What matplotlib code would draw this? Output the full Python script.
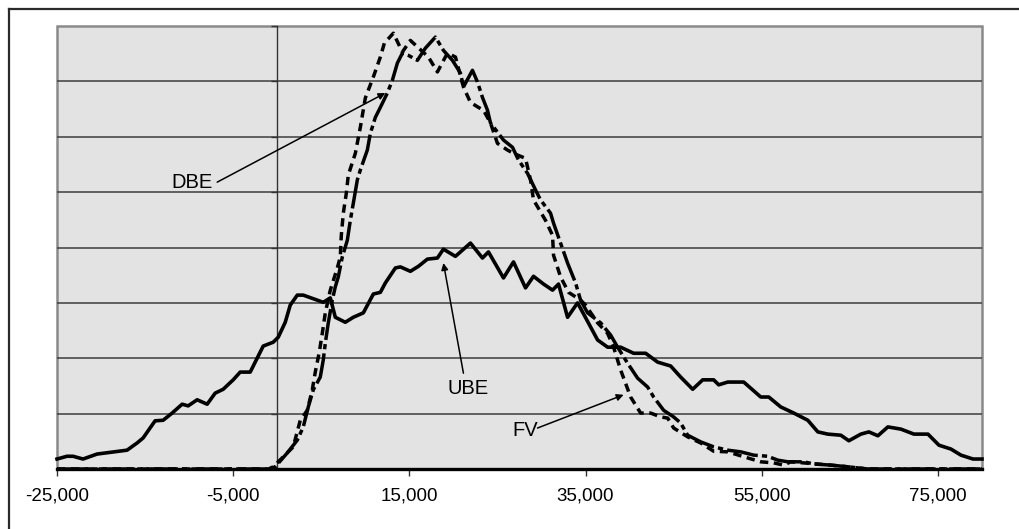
import matplotlib
matplotlib.use("Agg")
import matplotlib.pyplot as plt
from matplotlib.lines import Line2D
from matplotlib.patches import Rectangle
from matplotlib.ticker import FuncFormatter

plt.rcParams['font.family'] = ['Liberation Sans', 'DejaVu Sans']

# ---------------- data ----------------
ube_x = [-25000, -23864, -23182, -22045, -20455, -17045, -15909, -15227, -13864, -12955,
         -11932, -10795, -10114, -9091, -7955, -7045, -6136, -5000, -4205, -3068,
         -1591, -455, 114, 909, 1477, 2273, 2955, 5227, 6023, 6591,
         7727, 8636, 9773, 10909, 11705, 12273, 13409, 13977, 15114, 16023,
         17045, 18182, 18864, 20227, 21932, 23295, 23977, 25682, 26818, 28182,
         29091, 30227, 31250, 31932, 32955, 34091, 34773, 36364, 37500, 38977,
         40455, 41818, 43182, 44659, 45795, 47159, 48295, 49545, 50114, 51136,
         52955, 54886, 55795, 57159, 58636, 60227, 61364, 62500, 63977, 64886,
         66250, 67159, 68182, 69318, 70795, 72273, 73864, 75114, 76477, 77614,
         78977, 80000]
ube_y = [0.18, 0.23, 0.23, 0.18, 0.27, 0.34, 0.47, 0.56, 0.87, 0.88,
         1.01, 1.17, 1.14, 1.25, 1.17, 1.37, 1.44, 1.61, 1.75, 1.75,
         2.22, 2.29, 2.38, 2.65, 2.96, 3.14, 3.14, 3.01, 3.09, 2.74,
         2.65, 2.74, 2.82, 3.16, 3.19, 3.36, 3.63, 3.65, 3.57, 3.66,
         3.79, 3.81, 3.97, 3.84, 4.08, 3.81, 3.92, 3.45, 3.74, 3.27,
         3.48, 3.34, 3.23, 3.34, 2.74, 3.00, 2.80, 2.33, 2.20, 2.20,
         2.09, 2.09, 1.93, 1.86, 1.66, 1.44, 1.61, 1.61, 1.52, 1.57,
         1.57, 1.30, 1.30, 1.12, 1.01, 0.88, 0.67, 0.63, 0.61, 0.51,
         0.63, 0.67, 0.60, 0.76, 0.72, 0.63, 0.63, 0.43, 0.36, 0.25,
         0.18, 0.18]

dbe_x = [-25000, -800, -227, 1136, 2273, 2955, 3523, 4091, 4886, 5227,
         5455, 5795, 6250, 6591, 6932, 7386, 7955, 8295, 8636, 9091,
         9432, 10227, 10568, 11136, 11705, 12500, 13068, 13636, 14205, 14886,
         15909, 16818, 17955, 18864, 19886, 20795, 21136, 22159, 22727, 23295,
         23864, 24205, 25682, 26705, 27386, 28409, 29318, 29886, 31023, 31364,
         32159, 32955, 33864, 34432, 35227, 36705, 37841, 38636, 39773, 40909,
         42045, 42727, 43864, 45000, 45795, 46591, 48068, 49545, 51136, 52614,
         54091, 55682, 56818, 57955, 59773, 60909, 62841, 64773, 67045, 80000]
dbe_y = [0, 0, 0.04, 0.29, 0.52, 0.76, 1.12, 1.43, 1.66, 1.97,
         2.27, 2.64, 3.05, 3.29, 3.47, 3.83, 4.13, 4.49, 4.80, 5.22,
         5.40, 5.76, 6.06, 6.35, 6.53, 6.79, 7.02, 7.33, 7.51, 7.47,
         7.38, 7.60, 7.80, 7.56, 7.38, 7.15, 6.90, 7.20, 6.99, 6.71,
         6.48, 6.25, 5.94, 5.81, 5.58, 5.34, 5.04, 4.86, 4.62, 4.44,
         4.08, 3.72, 3.36, 3.05, 2.82, 2.64, 2.42, 2.20, 1.91, 1.64,
         1.48, 1.30, 1.06, 0.94, 0.83, 0.61, 0.49, 0.40, 0.34, 0.31,
         0.25, 0.23, 0.16, 0.13, 0.13, 0.09, 0.07, 0.04, 0, 0]

fv_x = [-25000, -1000, -455, 682, 1818, 2614, 3409, 3977, 4318, 4773,
        5114, 5455, 6023, 6818, 7159, 7273, 7500, 7841, 8068, 8864,
        9432, 10000, 10909, 11705, 12159, 13182, 14205, 15114, 17159, 18182,
        19318, 20227, 21136, 21932, 22841, 23409, 24205, 25000, 26136, 26818,
        28182, 28750, 29091, 30455, 31250, 31364, 32159, 33068, 34432, 35000,
        36364, 37500, 38182, 38977, 40114, 41250, 42386, 43523, 44318, 45000,
        46591, 48068, 49545, 51136, 53409, 54886, 56364, 57500, 58295, 59773,
        62841, 64773, 67045, 80000]
fv_y = [0, 0, 0.04, 0.22, 0.40, 0.88, 1.06, 1.43, 1.75, 2.11,
        2.45, 2.82, 3.23, 3.63, 3.83, 4.22, 4.62, 4.98, 5.31, 5.70,
        6.17, 6.70, 7.08, 7.44, 7.69, 7.87, 7.53, 7.74, 7.44, 7.17,
        7.51, 7.44, 6.90, 6.62, 6.53, 6.48, 6.25, 5.88, 5.76, 5.70,
        5.61, 5.22, 4.86, 4.49, 4.22, 3.86, 3.47, 3.19, 3.05, 2.96,
        2.64, 2.45, 2.20, 1.79, 1.30, 1.01, 1.01, 0.94, 0.92, 0.74,
        0.58, 0.47, 0.32, 0.31, 0.20, 0.13, 0.11, 0.07, 0.13, 0.11,
        0.07, 0.04, 0, 0]

x_ticks = [-25000, -5000, 15000, 35000, 55000, 75000]
grid_levels = [1, 2, 3, 4, 5, 6, 7]

labels = ["DBE", "UBE", "FV"]
label_text_xy = [(-9659, 5.18), (21705, 1.46), (28182, 0.69)]
label_line_start = [(-6818, 5.18), (21136, 1.73), (29545, 0.74)]
label_line_end = [(12273, 6.79), (18864, 3.72), (39318, 1.34)]

# ---------------- figure ----------------
W, H = 1020, 529
fig = plt.figure(figsize=(W / 100, H / 100), dpi=100)
fig.patch.set_facecolor('white')

# outer chart frame (left and top edges visible)
fig.add_artist(Line2D([9 / W, 9 / W], [0, 1 - 9 / H], transform=fig.transFigure,
                      color='#2a2a2a', lw=1.6))
fig.add_artist(Line2D([9 / W, 1], [1 - 9 / H, 1 - 9 / H], transform=fig.transFigure,
                      color='#2a2a2a', lw=1.6))

ax = fig.add_axes([57 / W, (H - 469) / H, (982 - 57) / W, (469 - 26) / H])
ax.set_facecolor('#e3e3e3')
ax.set_xlim(-25000, 80000)
ax.set_ylim(0, 8)

# gridlines
for g in grid_levels:
    ax.axhline(g, color='#3c3c3c', lw=1.1, zorder=1)

# plot-area border
ax.add_patch(Rectangle((0, 0), 1, 1, transform=ax.transAxes, fill=False,
                       edgecolor='#8a8a8a', lw=1.8, zorder=0.5, clip_on=False))

for s in ['top', 'right']:
    ax.spines[s].set_visible(False)
ax.spines['left'].set_position(('data', 0))
ax.spines['left'].set_color('#333333')
ax.spines['left'].set_linewidth(1.0)
ax.spines['bottom'].set_color('black')
ax.spines['bottom'].set_linewidth(2.4)

ax.set_yticks(grid_levels + [8])
ax.tick_params(axis='y', direction='out', length=4, width=1, color='#333333',
               labelleft=False)
ax.set_xticks(x_ticks)
ax.xaxis.set_major_formatter(FuncFormatter(lambda v, p: f"{int(v):,}"))
ax.tick_params(axis='x', direction='out', length=5, width=1, color='#333333',
               pad=8, labelsize=13.5)

# series
ax.plot(ube_x, ube_y, color='black', lw=2.6, solid_joinstyle='round', zorder=3,
        clip_on=False)
ax.plot(dbe_x, dbe_y, color='black', lw=2.5, linestyle=(0, (9, 1.2, 1.5, 1.2)),
        zorder=4, clip_on=False)
ax.plot(fv_x, fv_y, color='black', lw=2.5, linestyle=(0, (2.4, 1.6)),
        zorder=4, clip_on=False)

# annotations
for lab, txy, s, e in zip(labels, label_text_xy, label_line_start, label_line_end):
    ax.annotate('', xy=e, xytext=s,
                arrowprops=dict(arrowstyle='-|>', color='black', lw=1.1,
                                mutation_scale=10, shrinkA=0, shrinkB=0),
                zorder=5)
    ax.text(txy[0], txy[1], lab, fontsize=14.5, ha='center', va='center', zorder=6)

fig.savefig('out.png', dpi=100, facecolor='white')
